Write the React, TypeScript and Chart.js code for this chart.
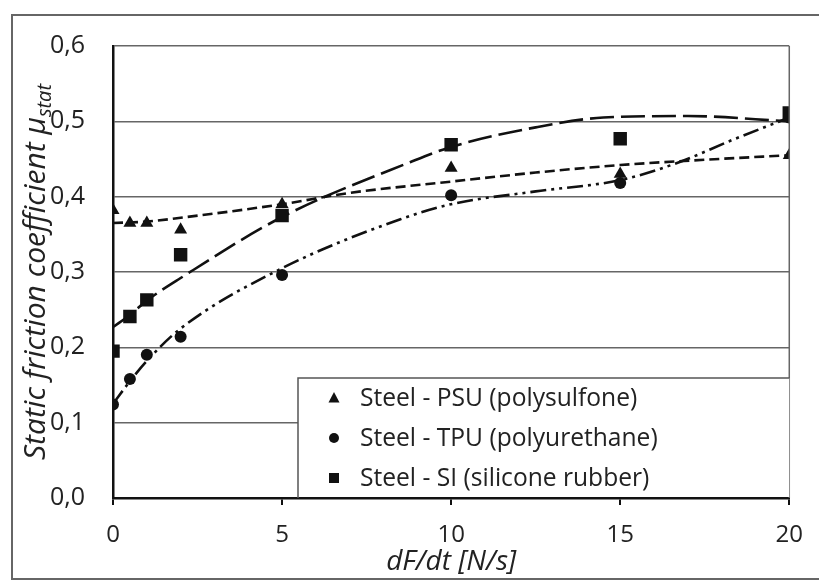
import React, { useEffect, useRef } from 'react';
import { Chart, registerables } from 'chart.js';

Chart.register(...registerables);

// Measured data (loading rate dF/dt in N/s vs static friction coefficient)
const rateX = [0, 0.5, 1, 2, 5, 10, 15, 20];
const psuValues = [0.382, 0.365, 0.365, 0.356, 0.39, 0.438, 0.43, 0.455];
const tpuValues = [0.124, 0.158, 0.19, 0.214, 0.296, 0.402, 0.418, 0.505];
const siValues = [0.195, 0.241, 0.263, 0.323, 0.375, 0.469, 0.477, 0.511];

// Trend curves
const psuTrendX = [0, 1, 2, 5, 7, 10, 12.5, 15, 17.5, 20];
const psuTrendY = [0.365, 0.367, 0.372, 0.39, 0.405, 0.42, 0.432, 0.442, 0.449, 0.455];
const tpuTrendX = [0, 0.5, 1, 2, 5, 8.5, 10, 12.5, 15, 16.7, 18.3, 20];
const tpuTrendY = [0.125, 0.155, 0.182, 0.225, 0.305, 0.37, 0.39, 0.407, 0.422, 0.445, 0.475, 0.505];
const siTrendX = [0, 0.5, 1, 2, 5, 8.8, 10, 12.5, 14.5, 17, 20];
const siTrendY = [0.227, 0.243, 0.262, 0.292, 0.373, 0.446, 0.466, 0.492, 0.505, 0.507, 0.5];

const seriesLabels = [
  'Steel - PSU (polysulfone)',
  'Steel - TPU (polyurethane)',
  'Steel - SI (silicone rubber)',
];
const xTitle = 'dF/dt [N/s]';
const yTitleMain = 'Static friction coefficient μ';
const yTitleSub = 'stat';

const FONT = '"Open Sans", "DejaVu Sans", sans-serif';
const INK = '#111';

const pts = (xs: number[], ys: number[]) => xs.map((x, i) => ({ x, y: ys[i] }));

function drawMarker(ctx: CanvasRenderingContext2D, kind: string, x: number, y: number, s: number) {
  ctx.beginPath();
  if (kind === 'triangle') {
    ctx.moveTo(x, y - s * 0.6);
    ctx.lineTo(x + s * 0.55, y + s * 0.45);
    ctx.lineTo(x - s * 0.55, y + s * 0.45);
    ctx.closePath();
  } else if (kind === 'circle') {
    ctx.arc(x, y, s / 2, 0, Math.PI * 2);
  } else {
    ctx.rect(x - s / 2, y - s / 2, s, s);
  }
  ctx.fill();
}

const overlayPlugin = {
  id: 'overlay',
  afterDraw(chart: any) {
    const { ctx, chartArea } = chart;
    const { left, right, top, bottom } = chartArea;
    ctx.save();
    // right border of plot area
    ctx.strokeStyle = '#666';
    ctx.lineWidth = 1.5;
    ctx.beginPath();
    ctx.moveTo(right, top);
    ctx.lineTo(right, bottom);
    ctx.stroke();

    // legend box
    const bx = left + 185;
    const by = bottom - 120;
    ctx.fillStyle = '#fff';
    ctx.fillRect(bx, by, right - bx, bottom - by - 1);
    ctx.strokeStyle = '#555';
    ctx.lineWidth = 1.5;
    ctx.beginPath();
    ctx.moveTo(bx, bottom);
    ctx.lineTo(bx, by);
    ctx.lineTo(right, by);
    ctx.stroke();
    const kinds = ['triangle', 'circle', 'rect'];
    ctx.font = `24.6px ${FONT}`;
    ctx.textBaseline = 'middle';
    ctx.textAlign = 'left';
    seriesLabels.forEach((lab, i) => {
      const cy = by + 20 + i * 40;
      ctx.fillStyle = INK;
      drawMarker(ctx, kinds[i], bx + 36, cy, 10);
      ctx.fillStyle = '#222';
      ctx.fillText(lab, bx + 62, cy + 1);
    });

    // y axis title with subscript
    ctx.translate(45, (top + bottom) / 2);
    ctx.rotate(-Math.PI / 2);
    ctx.font = `italic 30px ${FONT}`;
    const w1 = ctx.measureText(yTitleMain).width;
    ctx.font = `italic 20px ${FONT}`;
    const w2 = ctx.measureText(yTitleSub).width;
    const start = -(w1 + w2) / 2;
    ctx.fillStyle = '#222';
    ctx.textAlign = 'left';
    ctx.textBaseline = 'alphabetic';
    ctx.font = `italic 30px ${FONT}`;
    ctx.fillText(yTitleMain, start, 0);
    ctx.font = `italic 20px ${FONT}`;
    ctx.fillText(yTitleSub, start + w1, 6);
    ctx.restore();
  },
};

export default function App() {
  const ref = useRef<HTMLCanvasElement | null>(null);
  useEffect(() => {
    if (!ref.current) return;
    const trend = (xs: number[], ys: number[], dash: number[]) => ({
      type: 'line' as const,
      data: pts(xs, ys),
      borderColor: INK,
      borderWidth: 2.6,
      borderDash: dash,
      pointRadius: 0,
      fill: false,
      cubicInterpolationMode: 'monotone' as const,
      order: 2,
    });
    const marks = (ys: number[], style: string, r: number, label: string) => ({
      type: 'scatter' as const,
      label,
      data: pts(rateX, ys),
      pointStyle: style,
      pointRadius: r,
      backgroundColor: INK,
      borderColor: INK,
      borderWidth: 0,
      showLine: false,
      order: 1,
    });
    const chart = new Chart(ref.current, {
      type: 'scatter',
      data: {
        datasets: [
          trend(psuTrendX, psuTrendY, [10, 5]),
          trend(tpuTrendX, tpuTrendY, [16, 5, 3, 5, 3, 5]),
          trend(siTrendX, siTrendY, [24, 7]),
          marks(psuValues, 'triangle', 7.5, seriesLabels[0]),
          marks(tpuValues, 'circle', 6, seriesLabels[1]),
          marks(siValues, 'rect', 9.5, seriesLabels[2]),
        ] as any,
      },
      options: {
        animation: false,
        responsive: false,
        maintainAspectRatio: false,
        layout: { padding: { top: 46, right: 28, left: 0, bottom: 0 } },
        plugins: { legend: { display: false }, tooltip: { enabled: false } },
        scales: {
          x: {
            type: 'linear',
            min: 0,
            max: 20,
            afterFit: (s: any) => { s.height = 83; },
            ticks: {
              stepSize: 5,
              color: '#222',
              font: { family: FONT, size: 24 },
              padding: 16,
            },
            grid: { drawOnChartArea: false, drawTicks: true, tickLength: 7, color: INK, lineWidth: 2 },
            border: { color: INK, width: 2.5 },
            title: {
              display: true,
              text: xTitle,
              color: '#222',
              font: { family: FONT, size: 28, style: 'italic' },
              padding: { top: 0, bottom: 2 },
            },
          },
          y: {
            type: 'linear',
            min: 0,
            max: 0.6,
            afterFit: (s: any) => { s.width = 113; },
            ticks: {
              stepSize: 0.1,
              color: '#222',
              font: { family: FONT, size: 25 },
              padding: 28,
              callback: (v: any) => Number(v).toFixed(1).replace('.', ','),
            },
            grid: { color: '#666', lineWidth: 1.5, drawTicks: false },
            border: { color: INK, width: 2.5 },
          },
        },
      },
      plugins: [overlayPlugin],
    });
    return () => chart.destroy();
  }, []);

  return (
    <div style={{ position: 'fixed', left: 0, top: 0, width: 819, height: 581, background: '#fff', overflow: 'hidden' }}>
      <div style={{ position: 'absolute', left: 11, top: 14, width: 830, height: 562, border: '2px solid #666' }} />
      <canvas ref={ref} width={819} height={581} style={{ position: 'absolute', left: 0, top: 0, width: 819, height: 581 }} />
    </div>
  );
}
